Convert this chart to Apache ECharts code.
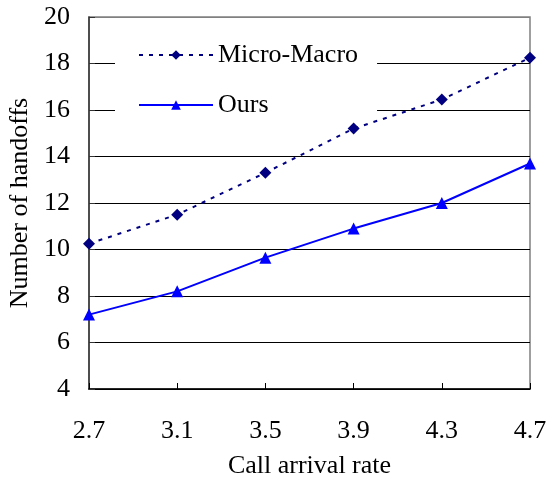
<!DOCTYPE html>
<html>
<head>
<meta charset="utf-8">
<script src="https://cdn.jsdelivr.net/npm/echarts@6/dist/echarts.min.js"></script>
<style>html,body{margin:0;padding:0;background:#fff}#c{width:547px;height:477px}</style>
</head>
<body>
<div id="c"></div>
<script>
var categories = ['2.7', '3.1', '3.5', '3.9', '4.3', '4.7'];
var microMacro = [10.25, 11.5, 13.3, 15.2, 16.45, 18.25];
var ours = [7.2, 8.2, 9.65, 10.9, 12.0, 13.7];
var yMin = 4, yMax = 20, yStep = 2;

var font = 'Liberation Serif';
var fs = 26;
var chart = echarts.init(document.getElementById('c'));
chart.setOption({
  backgroundColor: '#fff',
  animation: false,
  grid: { left: 89, right: 17, top: 17, bottom: 88, outerBoundsMode: 'none', containLabel: false, show: true, borderColor: '#808080', borderWidth: 1.5, backgroundColor: 'transparent' },
  legend: {
    orient: 'vertical',
    left: 115, top: 31,
    z: 1,
    padding: [11, 19, 11, 23],
    backgroundColor: '#fff',
    itemWidth: 74, itemHeight: 12,
    itemGap: 24,
    textStyle: { fontFamily: font, fontSize: fs, color: '#000' },
    data: ['Micro-Macro', 'Ours']
  },
  xAxis: {
    type: 'category',
    data: categories,
    boundaryGap: false,
    name: 'Call arrival rate',
    nameLocation: 'middle',
    nameGap: 64,
    nameTextStyle: { fontFamily: font, fontSize: fs, color: '#000' },
    axisLine: { lineStyle: { color: '#000', width: 1.5 } },
    axisTick: { inside: true, length: 6, lineStyle: { color: '#000' } },
    axisLabel: { fontFamily: font, fontSize: fs, color: '#000', margin: 29 },
    splitLine: { show: false }
  },
  yAxis: {
    type: 'value',
    min: yMin, max: yMax, interval: yStep,
    name: 'Number of handoffs',
    nameLocation: 'middle',
    nameGap: 50,
    nameTextStyle: { fontFamily: font, fontSize: fs, color: '#000' },
    axisLine: { show: true, lineStyle: { color: '#333', width: 1.5 } },
    axisTick: { show: true, inside: true, length: 6, lineStyle: { color: '#333' } },
    axisLabel: { fontFamily: font, fontSize: fs, color: '#000', margin: 19 },
    splitLine: { show: true, lineStyle: { color: ['#000', '#000', '#000', '#000', '#000', '#000', '#000', '#000', '#808080'], width: 1 } }
  },
  series: [
    {
      name: 'Micro-Macro', type: 'line', data: microMacro, z: 3,
      symbol: 'diamond', symbolSize: 12,
      itemStyle: { color: '#000080' },
      lineStyle: { color: '#000080', width: 2, type: [4, 6] }
    },
    {
      name: 'Ours', type: 'line', data: ours, z: 3,
      symbol: 'triangle', symbolSize: 12,
      itemStyle: { color: '#0000ff' },
      lineStyle: { color: '#0000ff', width: 2 }
    }
  ]
});
</script>
</body>
</html>
